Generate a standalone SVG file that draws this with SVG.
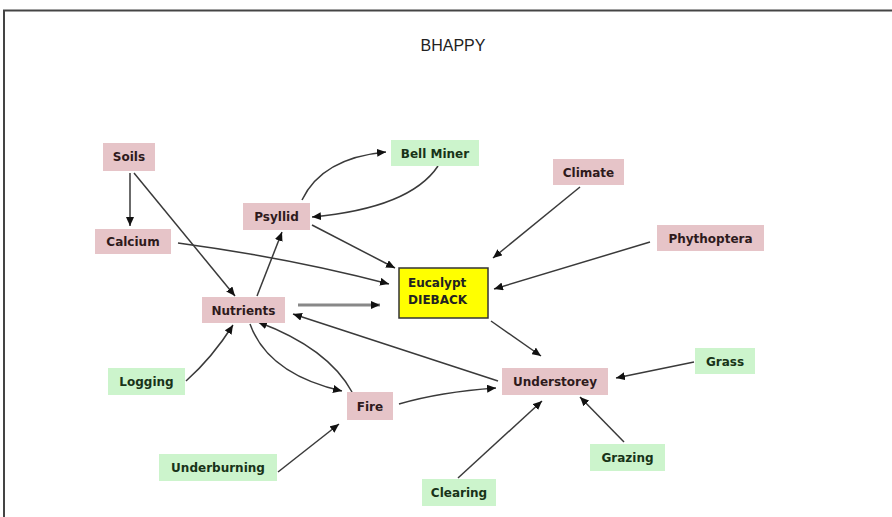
<svg xmlns="http://www.w3.org/2000/svg" width="892" height="517" viewBox="0 0 892 517">
  <defs>
    <marker id="arrow" markerUnits="userSpaceOnUse" markerWidth="9" markerHeight="8" refX="9" refY="4" orient="auto">
      <path d="M0,0 L9,4 L0,8 z" fill="#111"/>
    </marker>
    <style>
      .pink { fill: #e6c4c8; }
      .green { fill: #ccf4cc; }
      .core { fill: #ffff00; stroke: #333; stroke-width: 1.5; }
      .lbl { font-family: "DejaVu Sans", Verdana, sans-serif; font-weight: bold; font-size: 12px; text-anchor: middle; }
      .pink-t { fill: #2e1a1c; }
      .green-t { fill: #183318; }
      .edge { fill: none; stroke: #3a3a3a; stroke-width: 1.5; marker-end: url(#arrow); }
      .edge-thick { fill: none; stroke: #888; stroke-width: 3; marker-end: url(#arrow); }
    </style>
  </defs>

  <rect width="892" height="517" fill="#fff"/>
  <!-- frame -->
  <path d="M4,517 V10.5 H892" fill="none" stroke="#444" stroke-width="2"/>

  <text x="453" y="51" font-family="Liberation Sans, Arial, sans-serif" font-size="16" text-anchor="middle" fill="#222">BHAPPY</text>

  <g id="connectors">
    <line class="edge" x1="130" y1="173" x2="130" y2="226"/>
    <line class="edge" x1="134" y1="173" x2="235" y2="296"/>
    <path class="edge" d="M178,243 Q290,258 389,284"/>
    <line class="edge" x1="312" y1="225" x2="395" y2="268"/>
    <path class="edge" d="M302,200 Q322,158 386,152"/>
    <path class="edge" d="M438,166 Q410,208 312,217"/>
    <line class="edge" x1="257" y1="296" x2="282" y2="232"/>
    <line class="edge-thick" x1="298" y1="305" x2="380" y2="305"/>
    <line class="edge" x1="580" y1="187" x2="493" y2="258"/>
    <line class="edge" x1="650" y1="242" x2="494" y2="289"/>
    <line class="edge" x1="491" y1="321" x2="541" y2="356"/>
    <line class="edge" x1="498" y1="381" x2="293" y2="314"/>
    <path class="edge" d="M399,404 Q440,392 496,388"/>
    <path class="edge" d="M250,324 Q268,374 342,391"/>
    <path class="edge" d="M352,392 Q328,348 258,322"/>
    <path class="edge" d="M186,381 Q212,358 233,325"/>
    <line class="edge" x1="278" y1="472" x2="339" y2="424"/>
    <line class="edge" x1="458" y1="478" x2="542" y2="401"/>
    <line class="edge" x1="624" y1="442" x2="580" y2="397"/>
    <line class="edge" x1="694" y1="362" x2="616" y2="378"/>
  </g>

  <g id="soils">
    <rect class="pink" x="103" y="143" width="52" height="28"/>
    <text class="lbl pink-t" x="129" y="161">Soils</text>
  </g>
  <g id="calcium">
    <rect class="pink" x="95" y="229" width="76" height="25"/>
    <text class="lbl pink-t" x="133" y="246">Calcium</text>
  </g>
  <g id="psyllid">
    <rect class="pink" x="243" y="203" width="67" height="27"/>
    <text class="lbl pink-t" x="276.5" y="221">Psyllid</text>
  </g>
  <g id="bell-miner">
    <rect class="green" x="391" y="140" width="88" height="26"/>
    <text class="lbl green-t" x="435" y="157.5">Bell Miner</text>
  </g>
  <g id="climate">
    <rect class="pink" x="553" y="159" width="71" height="26"/>
    <text class="lbl pink-t" x="588.5" y="176.5">Climate</text>
  </g>
  <g id="phythoptera">
    <rect class="pink" x="657" y="225" width="107" height="26"/>
    <text class="lbl pink-t" x="710.5" y="242.5">Phythoptera</text>
  </g>
  <g id="eucalypt-dieback">
    <rect class="core" x="399" y="268" width="89" height="50"/>
    <text class="lbl" x="408" y="287" text-anchor="start" fill="#222" style="text-anchor:start">Eucalypt</text>
    <text class="lbl" x="408" y="304" fill="#222" style="text-anchor:start">DIEBACK</text>
  </g>
  <g id="nutrients">
    <rect class="pink" x="202" y="297" width="83" height="26"/>
    <text class="lbl pink-t" x="243.5" y="314.5">Nutrients</text>
  </g>
  <g id="logging">
    <rect class="green" x="108" y="368" width="77" height="27"/>
    <text class="lbl green-t" x="146.5" y="386">Logging</text>
  </g>
  <g id="understorey">
    <rect class="pink" x="502" y="368" width="106" height="27"/>
    <text class="lbl pink-t" x="555" y="386">Understorey</text>
  </g>
  <g id="grass">
    <rect class="green" x="695" y="348" width="60" height="26"/>
    <text class="lbl green-t" x="725" y="365.5">Grass</text>
  </g>
  <g id="fire">
    <rect class="pink" x="347" y="392" width="46" height="28"/>
    <text class="lbl pink-t" x="370" y="410.5">Fire</text>
  </g>
  <g id="underburning">
    <rect class="green" x="159" y="454" width="118" height="27"/>
    <text class="lbl green-t" x="218" y="472">Underburning</text>
  </g>
  <g id="grazing">
    <rect class="green" x="590" y="444" width="75" height="27"/>
    <text class="lbl green-t" x="627.5" y="462">Grazing</text>
  </g>
  <g id="clearing">
    <rect class="green" x="422" y="479" width="74" height="27"/>
    <text class="lbl green-t" x="459" y="497">Clearing</text>
  </g>
</svg>
